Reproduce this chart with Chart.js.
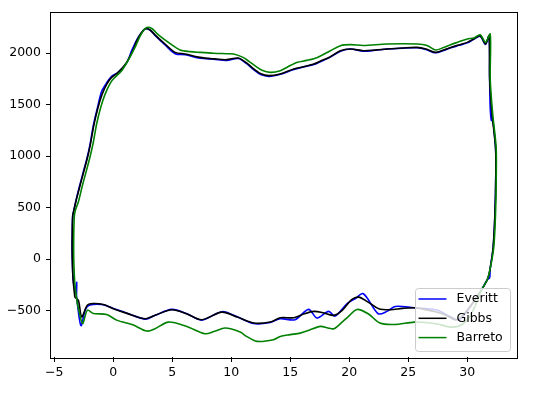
<!DOCTYPE html>
<html>
<head>
<meta charset="utf-8">
<script src="https://cdn.jsdelivr.net/npm/chart.js@4"></script>
<style>
  body { margin: 0; background: #fff; }
  canvas { display: block; }
</style>
</head>
<body>
<canvas id="loop" width="536" height="397"></canvas>
<script>
const seriesNames = ['Everitt', 'Gibbs', 'Barreto'];
const seriesColors = ['#0000ff', '#000000', '#008000'];

const xTicks = [-5, 0, 5, 10, 15, 20, 25, 30];
const yTicks = [-500, 0, 500, 1000, 1500, 2000];

const everittX = [-3.12, -3.10, -3.20, -3.40, -3.46, -3.49, -3.48, -3.44, -3.33, -3.15, -2.87, -2.57, -2.22, -1.97, -1.67, -1.32, -1.00, -0.60, -0.18, 0.40, 1.12, 1.58, 1.97, 2.40, 2.69, 3.10, 3.60, 4.39, 5.24, 6.10, 7.36, 8.50, 9.60, 10.60, 11.30, 11.90, 12.50, 13.20, 14.15, 15.30, 16.20, 17.00, 17.50, 18.40, 19.25, 20.10, 21.20, 22.20, 23.20, 24.50, 25.75, 26.50, 27.30, 28.00, 28.60, 29.30, 30.00, 30.55, 31.10, 31.55, 31.85, 31.90, 31.95, 32.05, 32.10, 32.40, 32.42, 32.35, 32.20, 31.95, 31.90, 31.70, 31.20, 30.50, 29.90, 29.30, 28.60, 27.50, 26.50, 25.50, 23.90, 23.20, 22.45, 21.20, 20.50, 19.80, 18.80, 18.25, 17.27, 16.55, 15.40, 14.15, 13.30, 11.90, 10.50, 9.20, 7.50, 6.20, 4.96, 3.50, 2.70, 1.10, 0.00, -0.98, -1.98, -2.35, -2.74, -3.12];
const everittY = [-360, -225, -330, -200, -60, 84, 250, 420, 480, 575, 705, 835, 985, 1115, 1310, 1480, 1625, 1705, 1770, 1814, 1905, 2030, 2125, 2200, 2238, 2225, 2165, 2080, 1995, 1985, 1950, 1942, 1930, 1948, 1898, 1840, 1792, 1775, 1795, 1842, 1868, 1890, 1915, 1962, 2018, 2040, 2020, 2028, 2040, 2048, 2052, 2036, 2004, 2026, 2052, 2076, 2100, 2135, 2165, 2085, 2165, 1752, 1470, 1345, 1410, 1086, 800, 440, 116, -90, -180, -200, -300, -420, -520, -590, -560, -497, -480, -472, -459, -507, -530, -336, -384, -433, -553, -507, -572, -488, -588, -578, -615, -625, -560, -510, -592, -528, -488, -548, -582, -522, -478, -440, -445, -485, -645, -360];

const gibbsX = [-3.26, -3.40, -3.46, -3.49, -3.48, -3.44, -3.33, -3.15, -2.85, -2.55, -2.20, -1.95, -1.65, -1.30, -0.95, -0.55, -0.14, 0.42, 1.14, 1.60, 1.99, 2.40, 2.69, 3.10, 3.60, 4.39, 5.24, 6.10, 7.36, 8.50, 9.60, 10.60, 11.30, 11.90, 12.50, 13.20, 14.15, 15.30, 16.20, 17.00, 17.50, 18.40, 19.25, 20.10, 21.20, 22.20, 23.20, 24.50, 25.75, 26.50, 27.30, 28.00, 28.60, 29.30, 30.00, 30.55, 31.10, 31.55, 31.85, 31.90, 32.10, 32.40, 32.42, 32.35, 32.20, 31.95, 31.70, 31.20, 30.50, 29.90, 29.40, 29.00, 28.20, 27.40, 26.50, 25.50, 24.50, 23.50, 22.50, 21.60, 20.80, 20.20, 19.40, 18.70, 17.80, 17.00, 16.20, 15.30, 14.15, 13.30, 11.90, 10.50, 9.20, 7.50, 6.20, 4.96, 3.50, 2.70, 1.10, 0.00, -0.85, -1.70, -2.20, -2.68, -2.96, -3.26];
const gibbsY = [-369, -207, -60, 84, 250, 420, 480, 570, 700, 830, 980, 1110, 1300, 1470, 1600, 1700, 1765, 1814, 1911, 2010, 2121, 2200, 2235, 2228, 2170, 2089, 2008, 1992, 1959, 1945, 1937, 1953, 1905, 1847, 1800, 1782, 1798, 1847, 1870, 1895, 1920, 1966, 2024, 2040, 2024, 2030, 2040, 2050, 2056, 2040, 2008, 2030, 2056, 2080, 2105, 2138, 2170, 2089, 2170, 1752, 1410, 1086, 800, 440, 116, -90, -200, -300, -420, -510, -570, -590, -545, -514, -490, -472, -478, -491, -481, -417, -369, -394, -498, -546, -520, -507, -530, -569, -569, -611, -620, -562, -514, -588, -530, -491, -546, -578, -524, -481, -441, -431, -447, -560, -400, -369];

const barretoX = [-3.05, -3.25, -3.33, -3.36, -3.35, -3.30, -3.20, -2.95, -2.65, -2.35, -2.00, -1.70, -1.40, -1.05, -0.70, -0.30, 0.00, 0.71, 1.30, 1.84, 2.25, 2.55, 2.83, 3.26, 3.80, 4.67, 5.66, 6.50, 7.36, 8.50, 9.60, 10.20, 11.00, 11.50, 12.00, 12.60, 13.30, 14.15, 15.00, 15.60, 16.40, 17.30, 18.40, 19.25, 20.10, 21.20, 23.20, 25.75, 26.60, 27.30, 28.00, 28.60, 29.30, 30.00, 30.55, 31.10, 31.55, 31.95, 31.95, 32.15, 32.45, 32.46, 32.40, 32.25, 31.95, 31.70, 31.20, 30.80, 30.20, 29.50, 28.60, 27.50, 26.50, 25.50, 23.80, 22.60, 21.60, 20.65, 19.90, 19.40, 18.70, 18.20, 17.55, 16.60, 15.85, 15.00, 14.15, 13.58, 12.17, 11.30, 10.76, 9.48, 8.60, 7.78, 6.23, 4.67, 3.54, 2.84, 1.70, 0.29, -0.56, -1.70, -2.20, -2.60, -3.05];
const barretoY = [-431, -250, -80, 80, 250, 420, 480, 560, 700, 830, 980, 1130, 1320, 1480, 1600, 1700, 1750, 1830, 1940, 2056, 2160, 2218, 2250, 2240, 2180, 2105, 2031, 2015, 2008, 2000, 1995, 1992, 1959, 1920, 1879, 1835, 1814, 1830, 1880, 1911, 1930, 1959, 2024, 2073, 2083, 2075, 2089, 2089, 2075, 2031, 2055, 2083, 2110, 2138, 2147, 2179, 2105, 2186, 1752, 1420, 1086, 800, 440, 116, -90, -200, -300, -420, -560, -640, -660, -630, -615, -611, -634, -620, -530, -488, -560, -611, -675, -668, -653, -690, -718, -733, -750, -782, -798, -750, -708, -669, -700, -724, -653, -611, -675, -698, -640, -592, -537, -527, -496, -624, -431];

const xs = [everittX, gibbsX, barretoX];
const ys = [everittY, gibbsY, barretoY];

const toPoints = (xArr, yArr) => xArr.map((x, i) => ({ x: x, y: yArr[i] }));
const minusSign = (v) => String(v).replace('-', '\u2212');

Chart.defaults.font.family = "'DejaVu Sans', sans-serif";
Chart.defaults.font.size = 12.5;
Chart.defaults.color = '#000';

// axes frame on all four sides
const framePlugin = {
	id: 'frame',
	afterDatasetsDraw(chart) {
		const a = chart.chartArea;
		const c = chart.ctx;
		c.save();
		c.strokeStyle = '#000';
		c.lineWidth = 1;
		c.strokeRect(Math.round(a.left) - 0.5, Math.round(a.top) - 0.5, Math.round(a.right - a.left) + 1, Math.round(a.bottom - a.top) + 1);
		c.restore();
	}
};

// legend box in the lower right corner, drawn over the lines
const boxLegend = {
	id: 'boxLegend',
	afterDraw(chart) {
		const a = chart.chartArea;
		const c = chart.ctx;
		const w = 95, h = 63;
		const x0 = a.right - 7 - w;
		const y0 = a.bottom - 6 - h;
		c.save();
		c.beginPath();
		c.roundRect(x0 + 0.5, y0 + 0.5, w, h, 3);
		c.fillStyle = 'rgba(255,255,255,0.8)';
		c.fill();
		c.strokeStyle = '#cccccc';
		c.lineWidth = 1;
		c.stroke();
		c.font = "12.5px 'DejaVu Sans', sans-serif";
		c.textBaseline = 'middle';
		seriesNames.forEach((name, i) => {
			const y = y0 + 11 + i * 19.3;
			c.beginPath();
			c.moveTo(x0 + 3.5, y);
			c.lineTo(x0 + 31.5, y);
			c.strokeStyle = seriesColors[i];
			c.lineWidth = 1.5;
			c.stroke();
			c.fillStyle = '#000';
			c.fillText(name, x0 + 41.5, y);
		});
		c.restore();
	}
};

const ctx = document.getElementById('loop').getContext('2d');

let myLoopChart = new Chart(ctx, {
	type: 'scatter',
	data: {
		datasets: seriesNames.map((name, i) => ({
			label: name,
			data: toPoints(xs[i], ys[i]),
			showLine: true,
			borderColor: seriesColors[i],
			backgroundColor: seriesColors[i],
			borderWidth: 1.6,
			pointRadius: 0,
			tension: 0.3,
			order: 3 - i
		}))
	},
	options: {
		responsive: false,
		animation: false,
		layout: {
			padding: { left: 0, right: 19, top: 11, bottom: 0 }
		},
		plugins: {
			legend: { display: false },
			tooltip: { enabled: false }
		},
		scales: {
			x: {
				type: 'linear',
				min: -5.28,
				max: 34.22,
				afterFit: (scale) => { scale.height = 40; },
				afterBuildTicks: (scale) => { scale.ticks = xTicks.map((v) => ({ value: v })); },
				grid: { drawOnChartArea: false, tickLength: 5, tickColor: '#000', tickWidth: 1 },
				border: { display: false },
				ticks: { padding: 3, maxRotation: 0, callback: minusSign }
			},
			y: {
				type: 'linear',
				min: -950,
				max: 2395,
				afterFit: (scale) => { scale.width = 51; },
				afterBuildTicks: (scale) => { scale.ticks = yTicks.map((v) => ({ value: v })); },
				grid: { drawOnChartArea: false, tickLength: 5, tickColor: '#000', tickWidth: 1 },
				border: { display: false },
				ticks: { padding: 5, callback: minusSign }
			}
		}
	},
	plugins: [framePlugin, boxLegend]
});
</script>
</body>
</html>
